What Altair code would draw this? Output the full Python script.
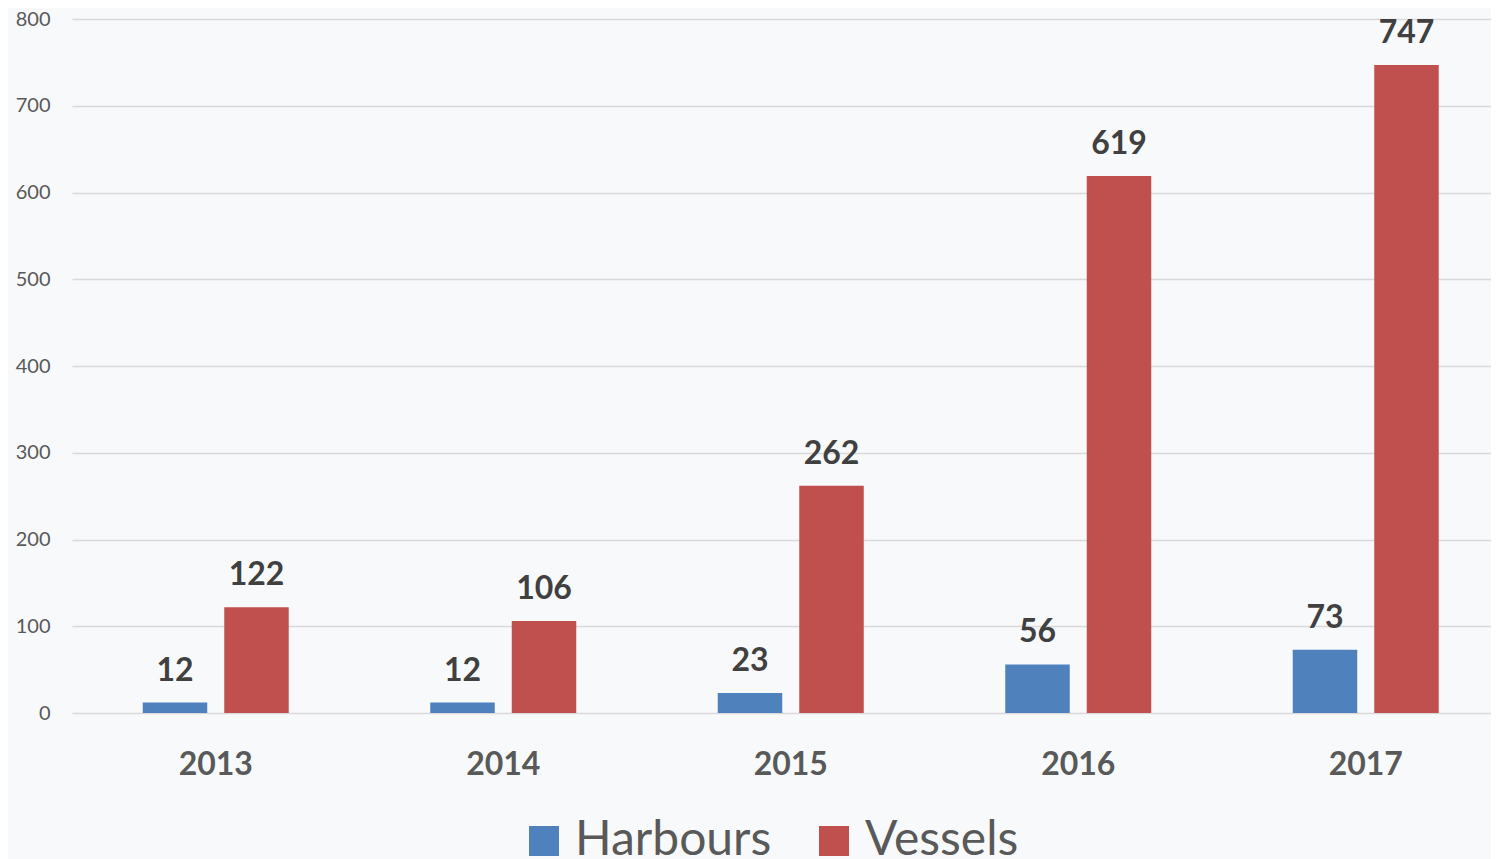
import altair as alt
import pandas as pd

years = ["2013", "2014", "2015", "2016", "2017"]
harbours = [12, 12, 23, 56, 73]
vessels = [122, 106, 262, 619, 747]
series_names = ["Harbours", "Vessels"]
series_colors = ["#4f81bd", "#c0504d"]
y_ticks = [0, 100, 200, 300, 400, 500, 600, 700, 800]

rows = []
for i, y in enumerate(years):
    rows.append({"year": y, "series": "Harbours", "value": harbours[i]})
    rows.append({"year": y, "series": "Vessels", "value": vessels[i]})
df = pd.DataFrame(rows)

FONT = "Lato"

x_enc = alt.X(
    "year:N",
    sort=years,
    scale=alt.Scale(range=[0, 1437.5], paddingInner=0.4922, paddingOuter=0.2461),
    axis=alt.Axis(
        title=None, labelAngle=0, ticks=False, domain=False,
        labelFontSize=32, labelFontWeight="bold", labelColor="#595959",
        labelFont=FONT, labelPadding=36, grid=False,
    ),
)
xoff_enc = alt.XOffset(
    "series:N",
    sort=series_names,
    scale=alt.Scale(domain=series_names, paddingInner=0.2086, paddingOuter=0),
)
y_enc = alt.Y(
    "value:Q",
    scale=alt.Scale(domain=[0, 800], nice=False),
    axis=alt.Axis(
        title=None, values=y_ticks, ticks=False, domain=False,
        labelFontSize=20, labelColor="#595959", labelFont=FONT,
        labelPadding=22, gridColor="#d9d9d9", gridWidth=1.5,
    ),
)

base = alt.Chart(df).encode(x=x_enc, xOffset=xoff_enc, y=y_enc)

bars = base.mark_bar().encode(
    color=alt.Color(
        "series:N",
        sort=series_names,
        scale=alt.Scale(domain=series_names, range=series_colors),
        legend=alt.Legend(
            title=None, orient="none", legendX=448, legendY=798,
            direction="horizontal", symbolType="square", symbolSize=900,
            symbolStrokeWidth=0, symbolOpacity=1, labelOffset=7,
            columnPadding=38, padding=0, labelFontSize=48,
            labelColor="#595959", labelFont=FONT, labelLimit=500,
        ),
    )
)

labels = base.mark_text(
    baseline="alphabetic", dy=-22, fontSize=32, fontWeight="bold",
    color="#404040", font=FONT,
).encode(text="value:Q")

chart = (
    alt.layer(bars, labels)
    .properties(
        width=1419, height=694,
        autosize=alt.AutoSizeParams(type="none"),
        padding={"left": 64, "top": 11, "right": 0, "bottom": 150},
        background="#f8f9fb",
    )
    .configure_view(stroke=None)
)

chart.save("out.html", embed_options={"renderer": "svg", "actions": False})
